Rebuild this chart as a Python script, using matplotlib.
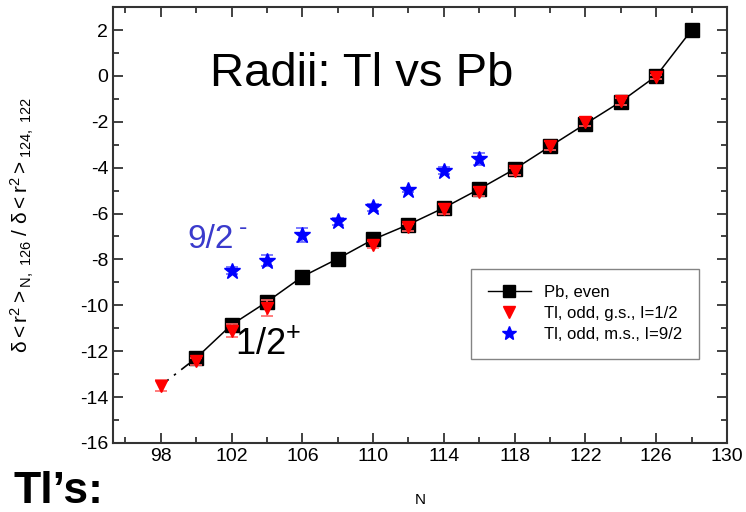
import numpy as np
import matplotlib
matplotlib.use("Agg")
import matplotlib.pyplot as plt
from matplotlib.ticker import MultipleLocator
from matplotlib.lines import Line2D

plt.rcParams['font.family'] = ['Liberation Sans', 'DejaVu Sans']
plt.rcParams['mathtext.fontset'] = 'custom'
plt.rcParams['mathtext.rm'] = 'Liberation Sans'
plt.rcParams['mathtext.it'] = 'Liberation Sans:italic'
plt.rcParams['axes.unicode_minus'] = False

# Pb, even
pb_n = [100, 102, 104, 106, 108, 110, 112, 114, 116, 118, 120, 122, 124, 126, 128]
pb_r = [-12.3, -10.85, -9.85, -8.75, -7.97, -7.13, -6.48, -5.75, -4.93, -4.06, -3.07, -2.09, -1.12, 0.0, 2.0]

# Tl, odd, g.s., I=1/2
gs_n = [98, 100, 102, 104, 110, 112, 114, 116, 118, 120, 122, 124, 126]
gs_r = [-13.5, -12.45, -11.1, -10.1, -7.35, -6.6, -5.8, -5.05, -4.15, -3.05, -2.0, -1.1, -0.05]
gs_err = [0.25, 0.15, 0.3, 0.35, 0.15, 0.15, 0.2, 0.2, 0.15, 0.2, 0.2, 0.15, 0.1]

# Tl, odd, m.s., I=9/2
ms_n = [102, 104, 106, 108, 110, 112, 114, 116]
ms_r = [-8.5, -8.05, -6.95, -6.33, -5.72, -4.97, -4.13, -3.62]
ms_err = [0.15, 0.25, 0.3, 0.15, 0.15, 0.1, 0.15, 0.25]

fig = plt.figure(figsize=(7.46, 5.12), dpi=100)
ax = fig.add_axes([0.1515, 0.135, 0.823, 0.851])

# dash-dot link from lightest Tl to Pb
ax.plot([gs_n[0], pb_n[0]], [gs_r[0], pb_r[0]], color='black', lw=1.2,
        linestyle=(0, (6, 4, 1.5, 4)), zorder=2)
ax.plot(pb_n, pb_r, '-s', color='black', mfc='black', ms=10, lw=1.1, zorder=3)
ax.errorbar(gs_n, gs_r, yerr=gs_err, fmt='v', color='red', ms=9,
            ecolor='#ff6666', elinewidth=1.2, capsize=4, capthick=1.2, zorder=4)
ax.errorbar(ms_n, ms_r, yerr=ms_err, fmt='*', color='blue', ms=12,
            ecolor='#6666ff', elinewidth=1.2, capsize=4, capthick=1.2, zorder=5)

ax.set_xlim(95.3, 130)
ax.set_ylim(-16, 3)
ax.set_xticks(np.arange(98, 131, 4))
ax.xaxis.set_minor_locator(MultipleLocator(2))
ax.yaxis.set_major_locator(MultipleLocator(2))
ax.yaxis.set_minor_locator(MultipleLocator(1))
ax.tick_params(which='both', direction='in', top=True, right=True,
               labelsize=14, width=1.3, colors='#333333', labelcolor='black')
ax.tick_params(which='major', length=7)
ax.tick_params(which='minor', length=4)
for s in ax.spines.values():
    s.set_linewidth(1.5)
    s.set_color('#333333')

ax.set_xlabel('N', fontsize=11)
ax.xaxis.set_label_coords(0.5, -0.115)
ax.set_ylabel(r'$\mathregular{\delta<r^2>_{N,\ 126}\ /\ \delta<r^2>_{124,\ 122}}$', fontsize=15)
ax.yaxis.set_label_coords(-0.125, 0.5)

ax.text(100.8, -0.45, 'Radii: Tl vs Pb', fontsize=34, va='baseline')
ax.text(99.5, -7.5, '9/2', fontsize=24, color='#3a3acc', va='baseline')
ax.text(102.4, -6.95, '-', fontsize=18, color='#3a3acc', va='baseline')
ax.text(102.2, -12.15, r'$\mathregular{1/2^{+}}$', fontsize=26, color='black', va='baseline')
fig.text(0.018, 0.0, 'Tl\u2019s:', fontsize=32, fontweight='bold', va='bottom')

handles = [
    Line2D([], [], color='black', marker='s', ms=9, lw=1.0),
    Line2D([], [], color='red', marker='v', ms=9, lw=0),
    Line2D([], [], color='blue', marker='*', ms=10, lw=0),
]
labels = ['Pb, even', 'Tl, odd, g.s., I=1/2', 'Tl, odd, m.s., I=9/2']
leg = ax.legend(handles, labels, loc='upper left', bbox_to_anchor=(0.583, 0.40),
                fontsize=12, frameon=True, fancybox=False, edgecolor='#666666',
                handlelength=2.6, borderpad=1.0, labelspacing=0.35,
                borderaxespad=0)
leg.get_frame().set_linewidth(1.0)

fig.savefig('out.png', dpi=100)
